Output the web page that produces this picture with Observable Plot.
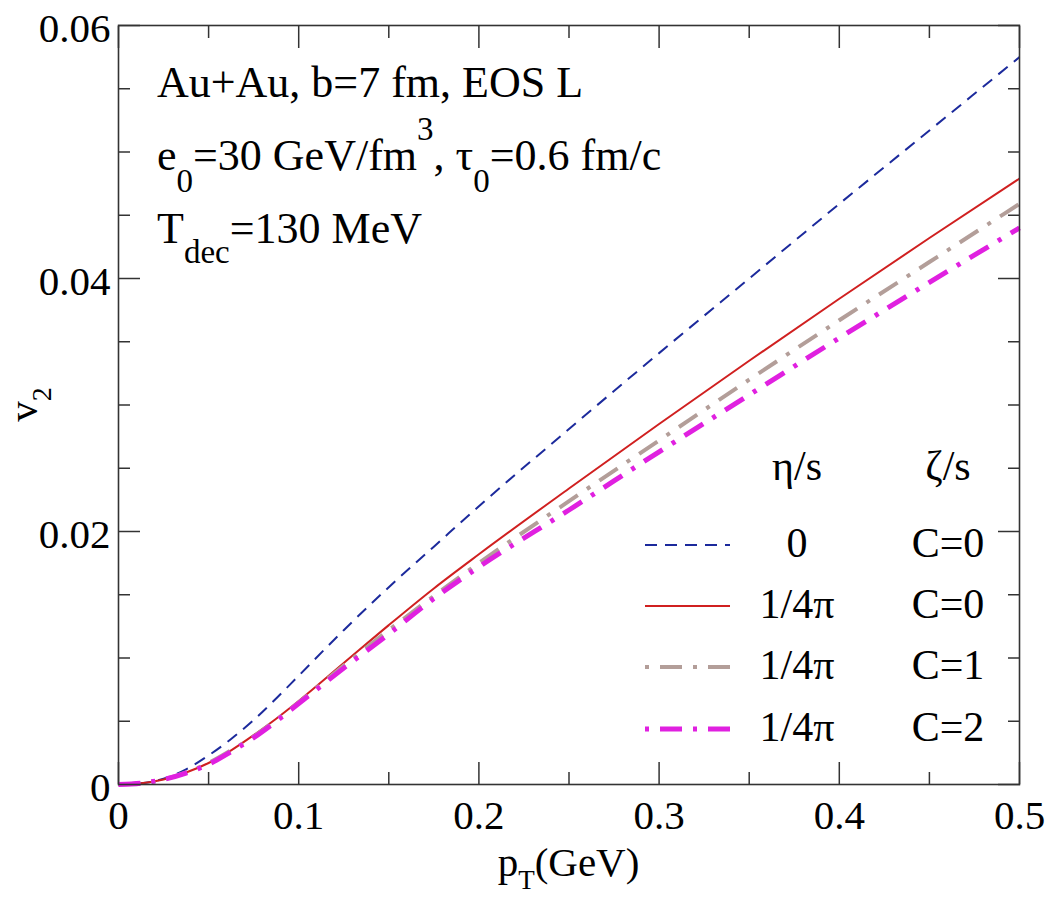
<!DOCTYPE html>
<html>
<head>
<meta charset="utf-8">
<script src="https://cdn.jsdelivr.net/npm/d3@7"></script>
<script src="https://cdn.jsdelivr.net/npm/@observablehq/plot@0.6"></script>
<style>
  body { margin: 0; background: #fff; }
  #chart svg, #chart svg text, #chart svg tspan {
    font-family: "Liberation Serif", "Times New Roman", Tinos, "Nimbus Roman", "DejaVu Serif", "Noto Serif", serif !important;
  }
</style>
</head>
<body>
<div id="chart"></div>
<script>
// Elliptic flow v2(pT): ideal vs. viscous hydro with shear and bulk viscosity
const pT = [0, 0.0125, 0.025, 0.0375, 0.05, 0.0625, 0.075, 0.0875, 0.1, 0.125, 0.15, 0.175, 0.2, 0.25, 0.3, 0.35, 0.4, 0.45, 0.5];

const v2Ideal   = [0, 0.0001, 0.00045, 0.0012, 0.0023, 0.0036, 0.0051, 0.0068, 0.0086, 0.0122, 0.0156, 0.0188, 0.0220, 0.0281, 0.0341, 0.0400, 0.0459, 0.0517, 0.0575];
const v2ShearC0 = [0, 0.0001, 0.0004, 0.00095, 0.0017, 0.0027, 0.0039, 0.0052, 0.0066, 0.0096, 0.0126, 0.0155, 0.0182, 0.0234, 0.0285, 0.0335, 0.0384, 0.0432, 0.0479];
const v2BulkC1  = [0, 0.0001, 0.0004, 0.00095, 0.0017, 0.0027, 0.0038, 0.0051, 0.0065, 0.0094, 0.0122, 0.0149, 0.0175, 0.0224, 0.0272, 0.0320, 0.0367, 0.0413, 0.0459];
const v2BulkC2  = [0, 0.0001, 0.0004, 0.0009, 0.0016, 0.0026, 0.0037, 0.0050, 0.0064, 0.0092, 0.0119, 0.0147, 0.0172, 0.0217, 0.0263, 0.0308, 0.0353, 0.0397, 0.0440];

// legend columns
const legendEta  = ["0", "1/4π", "1/4π", "1/4π"];
const legendZeta = ["C=0", "C=0", "C=1", "C=2"];

// series styles
const seriesValues = [v2Ideal, v2ShearC0, v2BulkC1, v2BulkC2];
const seriesColors = ["#1c2a9c", "#d02020", "#b39e99", "#e020e0"];
const seriesWidths = [2, 2, 4, 5];
const seriesDashes = ["12,8", null, "22,11,4,11", "22,11,4,11"];

// axis ticks
const xMajor = [0, 0.1, 0.2, 0.3, 0.4, 0.5];
const xMinor = [0.05, 0.15, 0.25, 0.35, 0.45];
const xTickLabels = ["0", "0.1", "0.2", "0.3", "0.4", "0.5"];
const yMajor = [0, 0.02, 0.04, 0.06];
const yMinor = [0.005, 0.01, 0.015, 0.025, 0.03, 0.035, 0.045, 0.05, 0.055];
const yTickLabels = ["0", "0.02", "0.04", "0.06"];

const FONT = "Liberation Serif, Times New Roman, Tinos, DejaVu Serif, serif";
const INK = "#333";

const series = seriesValues.map(vals => pT.map((p, i) => ({pt: p, v2: vals[i]})));

const tickMarks = [];
for (const anchor of ["bottom", "top"]) {
  tickMarks.push(Plot.axisX({anchor, ticks: xMajor, tickSize: -22, tickFormat: () => "", label: null, color: INK, strokeWidth: 1.5}));
  tickMarks.push(Plot.axisX({anchor, ticks: xMinor, tickSize: -12, tickFormat: () => "", label: null, color: INK, strokeWidth: 1.5}));
}
for (const anchor of ["left", "right"]) {
  tickMarks.push(Plot.axisY({anchor, ticks: yMajor, tickSize: -22, tickFormat: () => "", label: null, color: INK, strokeWidth: 1.5}));
  tickMarks.push(Plot.axisY({anchor, ticks: yMinor, tickSize: -12, tickFormat: () => "", label: null, color: INK, strokeWidth: 1.5}));
}

const svg = Plot.plot({
  width: 1054,
  height: 898,
  marginLeft: 118,
  marginRight: 35,
  marginTop: 25,
  marginBottom: 114,
  style: {background: "#fff", color: "#000"},
  x: {domain: [0, 0.5], label: null},
  y: {domain: [0, 0.06], label: null},
  marks: [
    ...tickMarks,
    Plot.axisX({anchor: "bottom", ticks: xMajor, tickSize: 0, tickPadding: 15, fontSize: 41, fill: "#000",
      tickFormat: d => xTickLabels[xMajor.indexOf(d)], label: null}),
    Plot.axisY({anchor: "left", ticks: yMajor, tickSize: 0, tickPadding: 8, fontSize: 41, fill: "#000", dy: 3,
      tickFormat: d => yTickLabels[yMajor.indexOf(d)], label: null}),
    ...series.map((data, k) => Plot.line(data, {
      x: "pt", y: "v2",
      stroke: seriesColors[k],
      strokeWidth: seriesWidths[k],
      strokeDasharray: seriesDashes[k],
      strokeLinecap: "butt",
      curve: "monotone-x"
    })),
    Plot.frame({stroke: INK, strokeWidth: 1.6})
  ]
});

document.getElementById("chart").appendChild(svg);

// Text with sub/superscripts and the in-frame legend
const root = d3.select(svg);
const [xl, xr] = svg.scale("x").range;
const [yb, yt] = svg.scale("y").range;

function rich(x, y, parts, size, {anchor = "start", rotate = 0} = {}) {
  const t = root.append("text")
    .attr("transform", `translate(${x},${y})` + (rotate ? ` rotate(${rotate})` : ""))
    .attr("text-anchor", anchor)
    .attr("font-family", FONT)
    .attr("font-size", size)
    .attr("fill", "#000");
  let cur = 0;
  for (const [s, shift = 0, fs = size] of parts) {
    t.append("tspan").attr("dy", shift - cur).attr("font-size", fs).text(s);
    cur = shift;
  }
  return t;
}

// run conditions
const ax = xl + 39;
rich(ax, yt + 72, [["Au+Au, b=7 fm, EOS L"]], 44);
rich(ax, yt + 145, [["e"], ["0", 22, 33], ["=30 GeV/fm", 0], ["3", -30, 33], [", τ", 0], ["0", 22, 33], ["=0.6 fm/c", 0]], 44);
rich(ax, yt + 218, [["T"], ["dec", 20, 33], ["=130 MeV", 0]], 44);

// axis titles
rich((xl + xr) / 2, yb + 92, [["p"], ["T", 13, 27], ["(GeV)", 0]], 41, {anchor: "middle"});
rich(37, (yt + yb) / 2, [["v"], ["2", 14, 28]], 41, {anchor: "middle", rotate: -90});

// legend
const etaX = xr - 222, zetaX = xr - 71;
const swX1 = xr - 374, swX2 = xr - 289;
rich(etaX, yb - 304, [["η/s"]], 42, {anchor: "middle"});
rich(zetaX, yb - 304, [["ζ/s"]], 42, {anchor: "middle"});
const rowOffsets = [239, 178, 117, 55];
legendEta.forEach((lab, k) => {
  const cy = yb - rowOffsets[k];
  root.append("line")
    .attr("x1", swX1).attr("x2", swX2).attr("y1", cy).attr("y2", cy)
    .attr("stroke", seriesColors[k])
    .attr("stroke-width", seriesWidths[k])
    .attr("stroke-dasharray", seriesDashes[k])
    .attr("stroke-dashoffset", seriesDashes[k] && k >= 2 ? 33 : 0);
  rich(etaX, cy + 12, [[lab]], 42, {anchor: "middle"});
  rich(zetaX, cy + 12, [[legendZeta[k]]], 42, {anchor: "middle"});
});
</script>
</body>
</html>
